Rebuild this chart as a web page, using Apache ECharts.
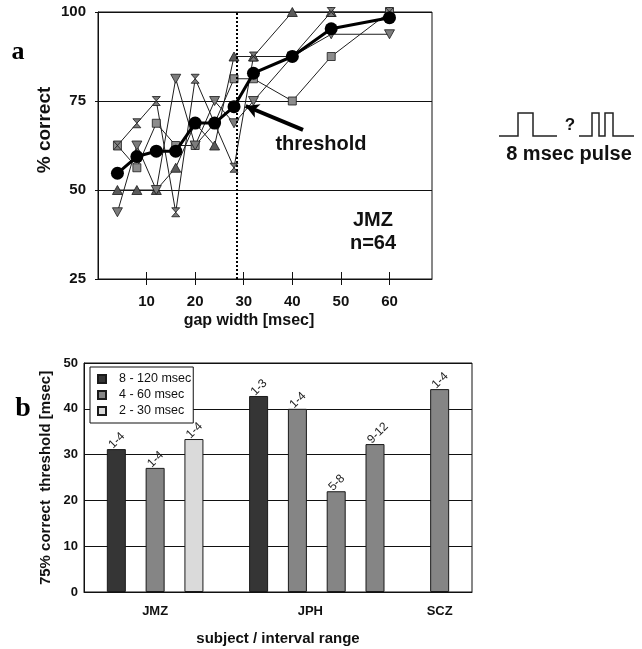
<!DOCTYPE html>
<html>
<head>
<meta charset="utf-8">
<script src="https://cdn.jsdelivr.net/npm/echarts@6/dist/echarts.min.js"></script>
<style>
  html, body { margin: 0; padding: 0; background: #fff; }
  #chart { width: 642px; height: 649px; }
</style>
</head>
<body>
<div id="chart"></div>
<script>
// ---- panel a: psychometric curve, % correct vs. gap width ----
const gapWidths = [4, 8, 12, 16, 20, 24, 28, 32, 40, 48, 60];
const gapTickLabels = [10, 20, 30, 40, 50, 60];
const runTriangle = [50, 50, 50, 56.25, 68.75, 62.5, 87.5, 87.5, 100, 100, 100];
const runSquare = [62.5, 56.25, 68.75, 62.5, 62.5, 68.75, 81.25, 81.25, 75, 87.5, 100];
const runInvTriangle = [43.75, 62.5, 50, 81.25, 62.5, 75, 68.75, 75, 87.5, 93.75, 93.75];
const runHourglass = [62.5, 68.75, 75, 43.75, 81.25, 68.75, 56.25, 87.5, 87.5, 100, 100];
const meanCorrect = [54.7, 59.4, 60.9, 60.9, 68.8, 68.8, 73.4, 82.8, 87.5, 95.3, 98.4];
const thresholdGap = 28.5;
const percentTicks = [25, 50, 75, 100];

// ---- panel b: 75% thresholds per subject and interval range ----
const rangeNames = ['8 - 120 msec', '4 - 60 msec', '2 - 30 msec'];
const subjects = ['JMZ', 'JPH', 'SCZ'];
const barSubject = ['JMZ', 'JMZ', 'JMZ', 'JPH', 'JPH', 'JPH', 'JPH', 'SCZ'];
const barRange = ['8 - 120 msec', '4 - 60 msec', '2 - 30 msec', '8 - 120 msec',
                  '4 - 60 msec', '4 - 60 msec', '4 - 60 msec', '4 - 60 msec'];
const barThreshold = [31.2, 27.1, 33.4, 42.8, 40, 22, 32.3, 44.3];
const barSessions = ['1-4', '1-4', '1-4', '1-3', '1-4', '5-8', '9-12', '1-4'];
const thresholdTicks = [0, 10, 20, 30, 40, 50];

const SANS = '"Liberation Sans", Arial, sans-serif';
const SERIF = '"Liberation Serif", "Times New Roman", serif';

// bars sit on a fine category axis: three slots per bar, two spare slots between subjects
const SLOT_COUNT = 30;
const barSlot = [];
let groupIdx = -1, prevSubject = null;
barSubject.forEach((s, i) => {
  if (s !== prevSubject) { groupIdx++; prevSubject = s; }
  barSlot.push(2 + 3 * i + 2 * groupIdx);
});
const slotNames = new Array(SLOT_COUNT).fill('');
subjects.forEach(s => {
  const slots = barSlot.filter((_, i) => barSubject[i] === s);
  const mid = Math.floor((slots[0] + slots[slots.length - 1]) / 2);
  slotNames[mid] = s;
});
const slotCategories = slotNames.map((n, i) => n || ('slot' + i));

const rangeColors = { '8 - 120 msec': '#353535', '4 - 60 msec': '#858585', '2 - 30 msec': '#dadada' };

const barSeries = rangeNames.map(r => {
  const data = new Array(SLOT_COUNT).fill('-');
  barRange.forEach((br, i) => {
    if (br === r) data[barSlot[i]] = { value: barThreshold[i], sessions: barSessions[i] };
  });
  return {
    name: r,
    type: 'bar',
    xAxisIndex: 2,
    yAxisIndex: 1,
    barWidth: 19,
    barGap: '-100%',
    data: data,
    itemStyle: { color: rangeColors[r], borderColor: '#1a1a1a', borderWidth: 1 },
    label: {
      show: true,
      position: 'top',
      distance: 8,
      rotate: 45,
      align: 'left',
      verticalAlign: 'middle',
      offset: [-8, 0],
      fontFamily: SANS,
      fontSize: 12,
      color: '#222',
      formatter: p => p.data.sessions
    },
    emphasis: { disabled: true },
    animation: false
  };
});

const zip = vals => gapWidths.map((g, i) => [g, vals[i]]);
const runStyle = (name, vals, symbol, fill, extra) => Object.assign({
  name: name,
  type: 'line',
  xAxisIndex: 0,
  yAxisIndex: 0,
  data: zip(vals),
  symbol: symbol,
  symbolSize: 9,
  lineStyle: { color: '#1e1e1e', width: 1 },
  itemStyle: { color: fill, borderColor: '#1a1a1a', borderWidth: 0.8 },
  emphasis: { disabled: true },
  animation: false,
  z: 3
}, extra || {});

const chart = echarts.init(document.getElementById('chart'), null, { renderer: 'canvas' });

chart.setOption({
  backgroundColor: '#fff',
  animation: false,
  grid: [
    { left: 98, top: 12, width: 334, height: 267, show: true, borderColor: '#111', borderWidth: 1, backgroundColor: 'transparent' },
    { left: 84, top: 363, width: 388, height: 229, show: true, borderColor: '#111', borderWidth: 1, backgroundColor: 'transparent' }
  ],
  legend: {
    data: rangeNames,
    orient: 'vertical',
    left: 90,
    top: 367,
    itemWidth: 8,
    itemHeight: 8,
    itemGap: 2,
    icon: 'rect',
    padding: [5, 2, 5, 7],
    borderColor: '#111',
    borderWidth: 1,
    backgroundColor: '#fff',
    selectedMode: false,
    textStyle: { fontFamily: SANS, fontSize: 12.5, color: '#111', lineHeight: 14, padding: [0, 0, 0, 8] }
  },
  xAxis: [
    {
      gridIndex: 0, type: 'value', min: 0, max: 68.75,
      axisLine: { show: true, lineStyle: { color: '#111', width: 1 } },
      axisTick: { show: true, length: 6, customValues: gapTickLabels, lineStyle: { color: '#111' } },
      axisLabel: { customValues: gapTickLabels, margin: 15, fontFamily: SANS, fontWeight: 'bold', fontSize: 15, color: '#111' },
      splitLine: { show: false }
    },
    {
      gridIndex: 0, type: 'value', min: 0, max: 68.75, position: 'bottom',
      axisLine: { show: false },
      axisTick: { show: true, inside: true, length: 7, customValues: gapTickLabels, lineStyle: { color: '#111' } },
      axisLabel: { show: false },
      splitLine: { show: false }
    },
    {
      gridIndex: 1, type: 'category', data: slotCategories,
      axisLine: { show: true, lineStyle: { color: '#111', width: 1 } },
      axisTick: { show: false },
      axisLabel: {
        interval: 0, margin: 13, fontFamily: SANS, fontWeight: 'bold', fontSize: 13, color: '#111',
        formatter: v => (subjects.indexOf(v) >= 0 ? v : '')
      },
      splitLine: { show: false }
    }
  ],
  yAxis: [
    {
      gridIndex: 0, type: 'value', min: percentTicks[0], max: percentTicks[percentTicks.length - 1], interval: 25,
      axisLine: { show: true, lineStyle: { color: '#111', width: 1 } },
      axisTick: { show: true, length: 3, lineStyle: { color: '#111' } },
      axisLabel: { margin: 12, fontFamily: SANS, fontWeight: 'bold', fontSize: 15, color: '#111' },
      splitLine: { show: true, lineStyle: { color: '#111', width: 1 } }
    },
    {
      gridIndex: 1, type: 'value', min: thresholdTicks[0], max: thresholdTicks[thresholdTicks.length - 1], interval: 10,
      axisLine: { show: true, lineStyle: { color: '#111', width: 1 } },
      axisTick: { show: false },
      axisLabel: { margin: 6, fontFamily: SANS, fontWeight: 'bold', fontSize: 13, color: '#111' },
      splitLine: { show: true, lineStyle: { color: '#111', width: 1 } }
    }
  ],
  series: [
    runStyle('run triangle', runTriangle, 'triangle', '#5a5a5a', { symbolSize: [10, 9] }),
    runStyle('run square', runSquare, 'rect', '#8c8c8c', { symbolSize: 8 }),
    runStyle('run inverted triangle', runInvTriangle, 'triangle', '#7c7c7c', { symbolSize: [10, 9], symbolRotate: 180 }),
    runStyle('run hourglass', runHourglass, 'path://M0,0L10,0L0,10L10,10Z', '#7a7a7a', { symbolSize: [8, 9] }),
    {
      name: 'mean',
      type: 'line',
      xAxisIndex: 0,
      yAxisIndex: 0,
      data: zip(meanCorrect),
      symbol: 'circle',
      symbolSize: 13,
      lineStyle: { color: '#000', width: 3 },
      itemStyle: { color: '#000' },
      emphasis: { disabled: true },
      animation: false,
      z: 5,
      markLine: {
        silent: true,
        animation: false,
        label: { show: false },
        data: [
          [
            { coord: [thresholdGap, 25], symbol: 'none', lineStyle: { color: '#000', width: 2, type: [2, 2] } },
            { coord: [thresholdGap, 100], symbol: 'none' }
          ],
          [
            { coord: [42.2, 66.9], symbol: 'none', lineStyle: { color: '#000', width: 4, type: 'solid' } },
            { coord: [30.4, 73.6], symbol: 'arrow', symbolSize: [11, 13] }
          ]
        ]
      }
    }
  ].concat(barSeries),
  graphic: [
    { type: 'text', x: 18, y: 52, style: { text: 'a', font: 'bold 26px ' + SERIF, fill: '#000', align: 'center', verticalAlign: 'middle' } },
    { type: 'text', x: 23, y: 409, style: { text: 'b', font: 'bold 28px ' + SERIF, fill: '#000', align: 'center', verticalAlign: 'middle' } },
    { type: 'text', x: 45, y: 130, rotation: Math.PI / 2, style: { text: '% correct', font: 'bold 19px ' + SANS, fill: '#111', align: 'center', verticalAlign: 'middle' } },
    { type: 'text', x: 249, y: 321, style: { text: 'gap width [msec]', font: 'bold 16px ' + SANS, fill: '#111', align: 'center', verticalAlign: 'middle' } },
    { type: 'text', x: 321, y: 144, style: { text: 'threshold', font: 'bold 20px ' + SANS, fill: '#111', align: 'center', verticalAlign: 'middle' } },
    { type: 'text', x: 373, y: 220, style: { text: 'JMZ', font: 'bold 20px ' + SANS, fill: '#111', align: 'center', verticalAlign: 'middle' } },
    { type: 'text', x: 373, y: 243, style: { text: 'n=64', font: 'bold 20px ' + SANS, fill: '#111', align: 'center', verticalAlign: 'middle' } },
    { type: 'text', x: 46, y: 478, rotation: Math.PI / 2, style: { text: '75% correct  threshold [msec]', font: 'bold 15px ' + SANS, fill: '#111', align: 'center', verticalAlign: 'middle' } },
    { type: 'text', x: 278, y: 639, style: { text: 'subject / interval range', font: 'bold 15px ' + SANS, fill: '#111', align: 'center', verticalAlign: 'middle' } },
    // stimulus sketch: single pulse vs. pulse with a gap
    { type: 'polyline', shape: { points: [[499, 136], [518, 136], [518, 113], [533, 113], [533, 136], [557, 136]] }, style: { stroke: '#222', lineWidth: 1.5, fill: null } },
    { type: 'text', x: 570, y: 125, style: { text: '?', font: 'bold 17px ' + SANS, fill: '#111', align: 'center', verticalAlign: 'middle' } },
    { type: 'polyline', shape: { points: [[579, 136], [592, 136], [592, 113], [599, 113], [599, 136], [605, 136], [605, 113], [613, 113], [613, 136], [634, 136]] }, style: { stroke: '#222', lineWidth: 1.5, fill: null } },
    { type: 'text', x: 569, y: 154, style: { text: '8 msec pulse', font: 'bold 20px ' + SANS, fill: '#111', align: 'center', verticalAlign: 'middle' } }
  ]
});
</script>
</body>
</html>
